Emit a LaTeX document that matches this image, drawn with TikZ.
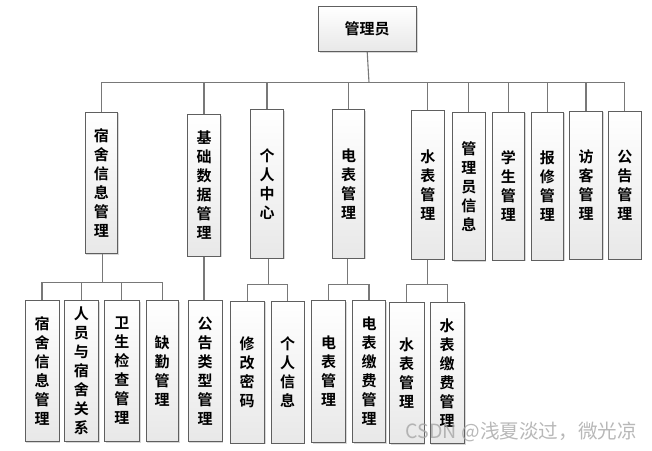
\documentclass[tikz,border=0pt]{standalone}
\usepackage{fontspec}
\usepackage{tikz}
\usetikzlibrary{
	shadows,
	calc
}
\newfontfamily\cjk{Noto Sans CJK SC}[BoldFont={Noto Sans CJK SC Bold}]
\definecolor{LineGray}{RGB}{120,120,120}
\definecolor{BoxEdge}{RGB}{95,95,95}

\begin{document}
\begin{tikzpicture}[x=1pt,y=-1pt,
	box/.style={draw=BoxEdge, line width=0.8pt, top color=white, bottom color=black!9,
		drop shadow={shadow xshift=1.3pt, shadow yshift=-1.3pt, fill=black!30},
		inner sep=0pt, align=center, anchor=north,
		font=\cjk\bfseries\fontsize{15}{19}\selectfont},
	topbox/.style={box, minimum width=32.5pt, minimum height=147pt},
	subbox/.style={box, minimum width=34pt, minimum height=141pt},
	link/.style={LineGray, line width=1.1pt}]
			\useasboundingbox (0,0) rectangle (652,450);
			
			\node[box, minimum width=98pt, minimum height=45pt] (root) at (367.2,6) {管理员};
			
			% second row
			\node[topbox, minimum height=141.6pt] (sushe) at (101.3,111.7) {宿\\舍\\信\\息\\管\\理};
			\node[topbox, minimum height=141.4pt] (jichu) at (204,114.3) {基\\础\\数\\据\\管\\理};
			\node[topbox, minimum height=148.4pt] (geren) at (267,109.3) {个\\人\\中\\心};
			\node[topbox, minimum height=148.4pt] (dianbiao) at (348.5,109.3) {电\\表\\管\\理};
			\node[topbox, minimum height=148.7pt] (shuibiao) at (427.8,110) {水\\表\\管\\理};
			\node[topbox, minimum height=148.3pt] (glyxx) at (468.8,111.7) {管\\理\\员\\信\\息};
			\node[topbox, minimum height=148pt] (xuesheng) at (508.3,111.7) {学\\生\\管\\理};
			\node[topbox, minimum height=148pt] (baoxiu) at (547.3,111.7) {报\\修\\管\\理};
			\node[topbox, minimum height=148pt] (fangke) at (586,110.5) {访\\客\\管\\理};
			\node[topbox, minimum height=148pt] (gonggao) at (624.8,110.5) {公\\告\\管\\理};
			
			% third row
			\node[subbox] (ssxx) at (42,300) {宿\\舍\\信\\息\\管\\理};
			\node[subbox] (ryss) at (81.3,300) {人\\员\\与\\宿\\舍\\关\\系};
			\node[subbox, minimum width=35pt] (wsjc) at (121.8,300) {卫\\生\\检\\查\\管\\理};
			\node[subbox, minimum width=32.3pt] (qqgl) at (162.2,300) {缺\\勤\\管\\理};
			\node[subbox] (gglx) at (205,300) {公\\告\\类\\型\\管\\理};
			\node[subbox, minimum height=142pt] (xgmm) at (247.2,300.7) {修\\改\\密\\码};
			\node[subbox, minimum width=33pt, minimum height=142pt] (grxx) at (287.5,300.7) {个\\人\\信\\息};
			\node[subbox, minimum height=142.3pt] (dbgl) at (328.7,300) {电\\表\\管\\理};
			\node[subbox, minimum width=33.4pt, minimum height=142.3pt] (dbjf) at (369,300) {电\\表\\缴\\费\\管\\理};
			\node[subbox, minimum width=34.7pt] (sbgl) at (406.7,302.3) {水\\表\\管\\理};
			\node[subbox, minimum width=34.3pt] (sbjf) at (447.2,302.3) {水\\表\\缴\\费\\管\\理};
			
			\coordinate (bar) at (369,82.7);
			\draw[link] (root.south) -- (bar);
			\foreach \n in {sushe,jichu,geren,dianbiao,shuibiao,glyxx,xuesheng,baoxiu,fangke,gonggao}
				\draw[link] (bar) -| (\n.north);
			
			\path (sushe.south) ++(1.4,28.4) coordinate (b1);
			\draw[link] (sushe.south -| b1) -- (b1);
			\foreach \n in {ssxx,ryss,wsjc,qqgl}
				\draw[link] (b1) -| (\n.north);
			
			\draw[link] (jichu.south) -- (jichu.south |- gglx.north);
			
			\path (geren.south) ++(1.3,25.6) coordinate (b2);
			\draw[link] (geren.south -| b2) -- (b2);
			\foreach \n in {xgmm,grxx}
				\draw[link] (b2) -| (\n.north);
			
			\path (dianbiao.south) ++(-1.2,25.6) coordinate (b3);
			\draw[link] (dianbiao.south -| b3) -- (b3);
			\foreach \n in {dbgl,dbjf}
				\draw[link] (b3) -| (\n.north);
			
			\path (shuibiao.south) ++(0,25.3) coordinate (b4);
			\draw[link] (shuibiao.south) -- (b4);
			\foreach \n in {sbgl,sbjf}
				\draw[link] (b4) -| (\n.north);
			
			\node[anchor=east, text=black!35, opacity=0.8, inner sep=0pt,
				font=\cjk\fontsize{19.6}{19.6}\selectfont] (mark) at (637,432) {CSDN @浅夏淡过，微光凉};
		\end{tikzpicture}
\end{document}
